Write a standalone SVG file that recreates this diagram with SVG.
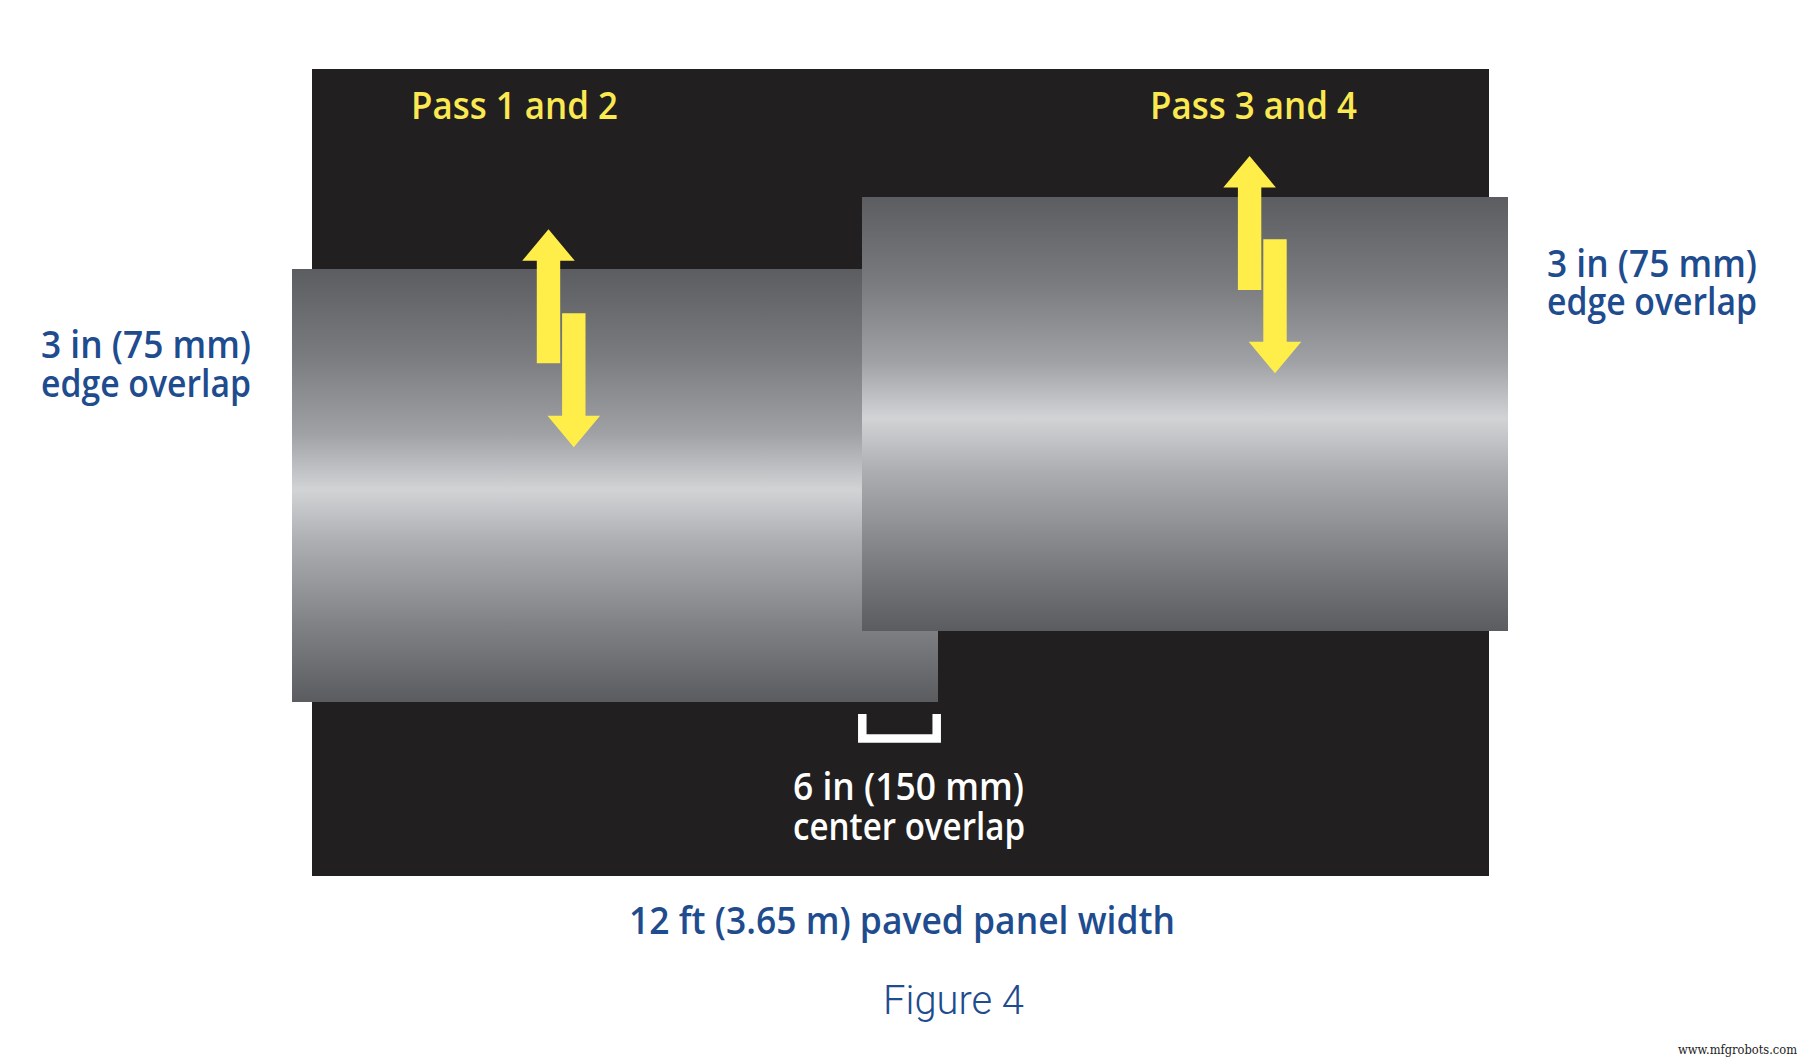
<svg xmlns="http://www.w3.org/2000/svg" width="1808" height="1060" viewBox="0 0 1808 1060">
  <style>
    .lbl { font-family: "Open Sans", "Noto Sans", "Liberation Sans", sans-serif; font-weight: 600; font-size: 37px; }
    .blue { fill: #1e4c8e; }
    .white { fill: #ffffff; }
    .yel { fill: #fbe952; }
    .arrow { fill: #ffee4a; }
    .fig { font-family: Roboto, "Liberation Sans", sans-serif; font-weight: 300; font-size: 40px; fill: #1e4c8e; }
    .wm { font-family: "DejaVu Serif", "Liberation Serif", serif; font-size: 12px; fill: #222222; }
  </style>
  <defs>
    <linearGradient id="roller" x1="0" y1="0" x2="0" y2="1">
      <stop offset="0" stop-color="#5c5d61"/>
      <stop offset="0.2" stop-color="#7a7b7f"/>
      <stop offset="0.38" stop-color="#a0a1a5"/>
      <stop offset="0.51" stop-color="#d2d3d5"/>
      <stop offset="0.63" stop-color="#adaeb2"/>
      <stop offset="0.82" stop-color="#818286"/>
      <stop offset="1" stop-color="#5b5c60"/>
    </linearGradient>
    <path id="upArrow" d="M0,0 L26.3,31.5 L11.7,31.5 L11.7,134 L-11.7,134 L-11.7,31.5 L-26.3,31.5 Z"/>
    <path id="downArrow" d="M-11.7,0 L11.7,0 L11.7,102.5 L26.3,102.5 L0,134 L-26.3,102.5 L-11.7,102.5 Z"/>
  </defs>

  <rect width="1808" height="1060" fill="#ffffff"/>

  <g id="panel">
    <rect x="312" y="69" width="1177" height="807" fill="#221f20"/>
  </g>

  <g id="roller-left">
    <rect x="292" y="269" width="646" height="433" fill="url(#roller)"/>
  </g>

  <g id="roller-right">
    <rect x="862" y="197" width="646" height="434" fill="url(#roller)"/>
  </g>

  <g id="arrows-pass-1-2" class="arrow">
    <use href="#upArrow" transform="translate(548.5,229.3)"/>
    <use href="#downArrow" transform="translate(573.8,313.3)"/>
  </g>

  <g id="arrows-pass-3-4" class="arrow">
    <use href="#upArrow" transform="translate(1249.6,156)"/>
    <use href="#downArrow" transform="translate(1275,239.3)"/>
  </g>

  <g id="center-bracket">
    <path d="M862.3,714 V738.5 H936.7 V714" fill="none" stroke="#ffffff" stroke-width="8.5"/>
  </g>

  <g id="labels">
    <text class="lbl yel" x="411" y="119" textLength="207" lengthAdjust="spacingAndGlyphs">Pass 1 and 2</text>
    <text class="lbl yel" x="1150" y="119" textLength="207" lengthAdjust="spacingAndGlyphs">Pass 3 and 4</text>

    <text class="lbl blue" x="41" y="358" textLength="210" lengthAdjust="spacingAndGlyphs">3 in (75 mm)</text>
    <text class="lbl blue" x="41" y="397" textLength="210" lengthAdjust="spacingAndGlyphs">edge overlap</text>

    <text class="lbl blue" x="1547" y="277" textLength="210" lengthAdjust="spacingAndGlyphs">3 in (75 mm)</text>
    <text class="lbl blue" x="1547" y="315" textLength="210" lengthAdjust="spacingAndGlyphs">edge overlap</text>

    <text class="lbl white" x="793" y="799.5" textLength="231" lengthAdjust="spacingAndGlyphs">6 in (150 mm)</text>
    <text class="lbl white" x="793" y="840" textLength="232" lengthAdjust="spacingAndGlyphs">center overlap</text>

    <text class="lbl blue" x="629" y="934" textLength="546" lengthAdjust="spacingAndGlyphs">12 ft (3.65 m) paved panel width</text>

    <text class="fig" x="883" y="1014" textLength="141" lengthAdjust="spacingAndGlyphs">Figure 4</text>

    <text class="wm" x="1678" y="1054" textLength="119" lengthAdjust="spacingAndGlyphs">www.mfgrobots.com</text>
  </g>
</svg>
